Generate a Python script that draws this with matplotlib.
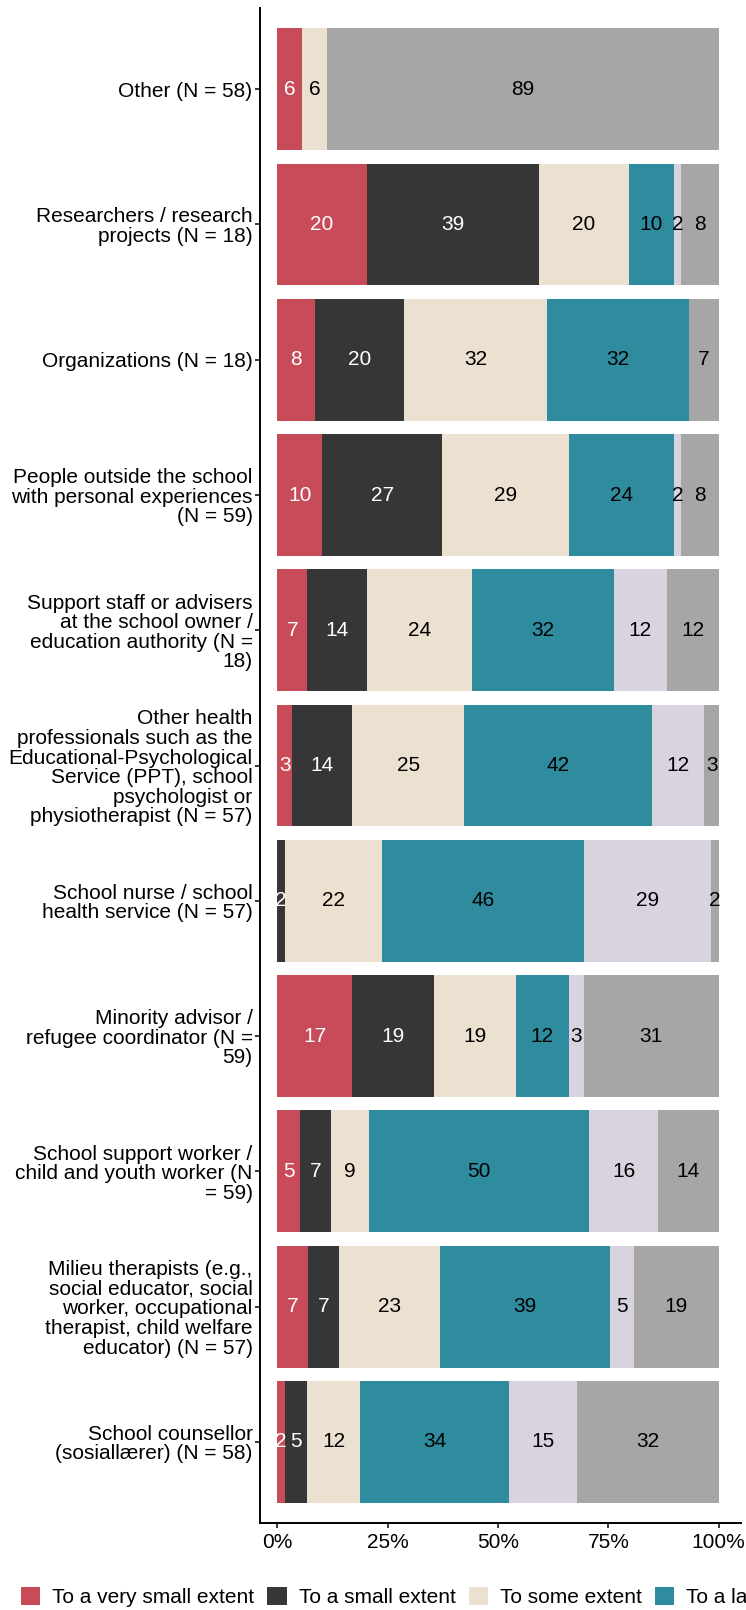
import matplotlib
matplotlib.use("Agg")
import matplotlib.pyplot as plt

plt.rcParams['font.family'] = ['Liberation Sans', 'DejaVu Sans']

# categories, top to bottom
categories = [
    "Other (N = 58)",
    "Researchers / research\nprojects (N = 18)",
    "Organizations (N = 18)",
    "People outside the school\nwith personal experiences\n(N = 59)",
    "Support staff or advisers\nat the school owner /\neducation authority (N =\n18)",
    "Other health\nprofessionals such as the\nEducational-Psychological\nService (PPT), school\npsychologist or\nphysiotherapist (N = 57)",
    "School nurse / school\nhealth service (N = 57)",
    "Minority advisor /\nrefugee coordinator (N =\n59)",
    "School support worker /\nchild and youth worker (N\n= 59)",
    "Milieu therapists (e.g.,\nsocial educator, social\nworker, occupational\ntherapist, child welfare\neducator) (N = 57)",
    "School counsellor\n(sosiallærer) (N = 58)",
]

# percentages per response level
very_small = [5.6, 20.3, 8.5, 10.2, 6.8, 3.4, 0, 16.9, 5.2, 7.0, 1.7]
small = [0, 39.0, 20.3, 27.1, 13.6, 13.6, 1.7, 18.6, 6.9, 7.0, 5.1]
some = [5.6, 20.3, 32.2, 28.8, 23.7, 25.4, 22.0, 18.6, 8.6, 22.8, 11.9]
large = [0, 10.2, 32.2, 23.7, 32.2, 42.4, 45.8, 11.9, 50.0, 38.6, 33.9]
very_large = [0, 1.7, 0, 1.7, 11.9, 11.9, 28.8, 3.4, 15.5, 5.3, 15.3]
dont_know = [88.9, 8.5, 6.8, 8.5, 11.9, 3.4, 1.7, 30.6, 13.8, 19.3, 32.2]

levels = ["To a very small extent", "To a small extent", "To some extent",
          "To a large extent", "To a very large extent", "Don't know"]
series = [very_small, small, some, large, very_large, dont_know]
colors = ["#C84B5A", "#363636", "#ECE0D0", "#2E8C9E", "#D9D2DF", "#A6A6A6"]
text_colors = ["white", "white", "black", "black", "black", "black"]

fig = plt.figure(figsize=(7.46, 16.10), dpi=100)
ax = fig.add_axes([0.348, 0.054, 0.645, 0.941])

y = list(range(len(categories)))
left = [0.0] * len(categories)
for name, vals, col, tcol in zip(levels, series, colors, text_colors):
    ax.barh(y, vals, left=left, height=0.9, color=col, label=name)
    for yi, l, v in zip(y, left, vals):
        if v > 0:
            ax.text(l + v / 2, yi, f"{v:.0f}", ha="center", va="center",
                    color=tcol, fontsize=15)
    left = [a + b for a, b in zip(left, vals)]

ax.set_ylim(len(categories) - 0.4, -0.6)
ax.set_xlim(-4, 105)
ax.set_yticks(y)
ax.set_yticklabels(categories, fontsize=15, linespacing=1.04)
ax.set_xticks([0, 25, 50, 75, 100])
ax.set_xticklabels(["0%", "25%", "50%", "75%", "100%"], fontsize=15)
ax.spines['top'].set_visible(False)
ax.spines['right'].set_visible(False)
ax.spines['left'].set_linewidth(1.4)
ax.spines['bottom'].set_linewidth(1.4)
ax.tick_params(length=3.6, width=1.1, color="black", labelcolor="black")
ax.tick_params(axis="y", pad=1.5)

fig.legend(loc="center left", bbox_to_anchor=(0.028, 0.008), ncol=6,
           frameon=False, fontsize=15, handlelength=0.92, handleheight=0.95,
           handletextpad=0.58, columnspacing=0.63, borderaxespad=0,
           borderpad=0)

fig.savefig("out.png", dpi=100)
